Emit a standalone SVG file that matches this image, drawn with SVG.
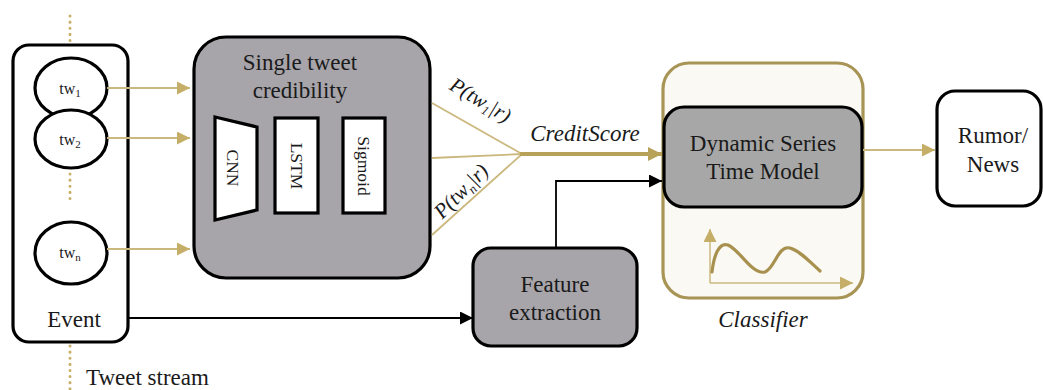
<svg xmlns="http://www.w3.org/2000/svg" width="1043" height="390" viewBox="0 0 1043 390">
<defs>
<style>
.t{font-family:"Liberation Serif","Times New Roman",serif;fill:#1a1a1a;}
.lbl{font-size:23px;}
.small{font-size:17.5px;}
.it{font-style:italic;}
.gold{stroke:#cbb87e;stroke-width:1.8;fill:none;}
.dots{stroke:#c9b06a;stroke-width:3;stroke-dasharray:0.1 6;stroke-linecap:round;fill:none;}
.box{stroke:#000;stroke-width:3.2;}
</style>
<marker id="ag" viewBox="0 0 10 10" refX="10" refY="5" markerWidth="13" markerHeight="13" markerUnits="userSpaceOnUse" orient="auto"><path d="M0,0 L10,5 L0,10 z" fill="#c4ae68"/></marker>
<marker id="agb" viewBox="0 0 10 10" refX="10" refY="5" markerWidth="14" markerHeight="14" markerUnits="userSpaceOnUse" orient="auto"><path d="M0,0 L10,5 L0,10 z" fill="#b8a158"/></marker>
<marker id="ak" viewBox="0 0 10 10" refX="10" refY="5" markerWidth="13" markerHeight="13" markerUnits="userSpaceOnUse" orient="auto"><path d="M0,0 L10,5 L0,10 z" fill="#000"/></marker>
</defs>
<rect width="1043" height="390" fill="#fff"/>

<g id="stream">
<line class="dots" x1="70" y1="16" x2="70" y2="44"/>
<line class="dots" x1="70" y1="346" x2="70" y2="390"/>
<text class="t lbl" x="86" y="385">Tweet stream</text>
</g>

<g id="event">
<rect class="box" x="13" y="45" width="115" height="297" rx="16" fill="#fff"/>
<ellipse class="box" cx="71" cy="88" rx="36" ry="30" fill="#fff"/>
<ellipse class="box" cx="71" cy="139" rx="36" ry="29" fill="#fff"/>
<ellipse class="box" cx="71" cy="253" rx="36" ry="31" fill="#fff"/>
<line class="dots" x1="70" y1="174" x2="70" y2="200"/>
<text class="t" x="70" y="94" font-size="16" text-anchor="middle">tw<tspan font-size="11" dy="3">1</tspan></text>
<text class="t" x="70" y="145" font-size="16" text-anchor="middle">tw<tspan font-size="11" dy="3">2</tspan></text>
<text class="t" x="70" y="258" font-size="16" text-anchor="middle">tw<tspan font-size="11" dy="3">n</tspan></text>
<text class="t lbl" x="74" y="327" text-anchor="middle">Event</text>
</g>

<g id="single-tweet">
<rect class="box" x="194" y="37" width="236" height="241" rx="32" fill="#a7a5aa"/>
<text class="t lbl" x="300" y="70" text-anchor="middle">Single tweet</text>
<text class="t lbl" x="300" y="98" text-anchor="middle">credibility</text>
<polygon class="box" points="215,117 257,127 257,210 215,220" fill="#fff"/>
<rect class="box" x="275" y="118" width="43" height="95" fill="#fff"/>
<rect class="box" x="343" y="118" width="42" height="95" fill="#fff"/>
<text class="t small" transform="translate(233,168) rotate(90)" text-anchor="middle" dy="6">CNN</text>
<text class="t small" transform="translate(297,166) rotate(90)" text-anchor="middle" dy="6">LSTM</text>
<text class="t small" transform="translate(364,166) rotate(90)" text-anchor="middle" dy="6">Sigmoid</text>
</g>

<g id="feature">
<rect class="box" x="473" y="248" width="164" height="98" rx="18" fill="#a7a5aa"/>
<text class="t lbl" x="555" y="292" text-anchor="middle">Feature</text>
<text class="t lbl" x="555" y="320" text-anchor="middle">extraction</text>
</g>

<g id="classifier">
<rect x="663" y="63" width="200" height="235" rx="26" fill="#faf9f4" stroke="#a89455" stroke-width="3.2"/>
<rect class="box" x="664" y="107" width="198" height="100" rx="20" fill="#a7a7a7"/>
<text class="t lbl" x="763" y="151" text-anchor="middle">Dynamic Series</text>
<text class="t lbl" x="763" y="179" text-anchor="middle">Time Model</text>
<line x1="710" y1="283" x2="710" y2="229" stroke="#cbb87e" stroke-width="1.5" marker-end="url(#ag)"/>
<line x1="710" y1="283" x2="853" y2="283" stroke="#cbb87e" stroke-width="1.5" marker-end="url(#ag)"/>
<path d="M712,272 C714,255 719,242 728,245 C740,250 752,275 765,272 C775,268 778,245 790,248 C800,251 810,262 820,271" fill="none" stroke="#a8904f" stroke-width="3.2" stroke-linecap="round"/>
<text class="t lbl it" x="763" y="327" text-anchor="middle">Classifier</text>
</g>

<g id="output">
<rect class="box" x="937" y="91" width="104" height="115" rx="18" fill="#fff"/>
<text class="t lbl" x="993" y="143" text-anchor="middle">Rumor/</text>
<text class="t lbl" x="993" y="172" text-anchor="middle">News</text>
</g>

<g id="connectors">
<line class="gold" x1="107" y1="88" x2="190" y2="88" marker-end="url(#ag)"/>
<line class="gold" x1="107" y1="138" x2="190" y2="138" marker-end="url(#ag)"/>
<line class="gold" x1="107" y1="249" x2="190" y2="249" marker-end="url(#ag)"/>
<line class="gold" x1="432" y1="103" x2="522" y2="154"/>
<line class="gold" x1="432" y1="158" x2="522" y2="154"/>
<line class="gold" x1="432" y1="235" x2="522" y2="154"/>
<line x1="520" y1="154" x2="662" y2="154" stroke="#b8a158" stroke-width="4" marker-end="url(#agb)"/>
<polyline points="556,247 556,181 662,181" fill="none" stroke="#000" stroke-width="1.8" marker-end="url(#ak)"/>
<line x1="128" y1="318" x2="473" y2="318" stroke="#000" stroke-width="1.8" marker-end="url(#ak)"/>
<line class="gold" x1="863" y1="150" x2="935" y2="150" marker-end="url(#ag)"/>
<text class="t it" font-size="21" transform="translate(477,106) rotate(31)" text-anchor="middle">P(tw<tspan font-size="13" dy="4">1</tspan><tspan dy="-4">|r)</tspan></text>
<text class="t it" font-size="21" transform="translate(466,196) rotate(-45)" text-anchor="middle">P(tw<tspan font-size="13" dy="4">n</tspan><tspan dy="-4">|r)</tspan></text>
<text class="t lbl it" x="585" y="141" text-anchor="middle">CreditScore</text>
</g>
</svg>
